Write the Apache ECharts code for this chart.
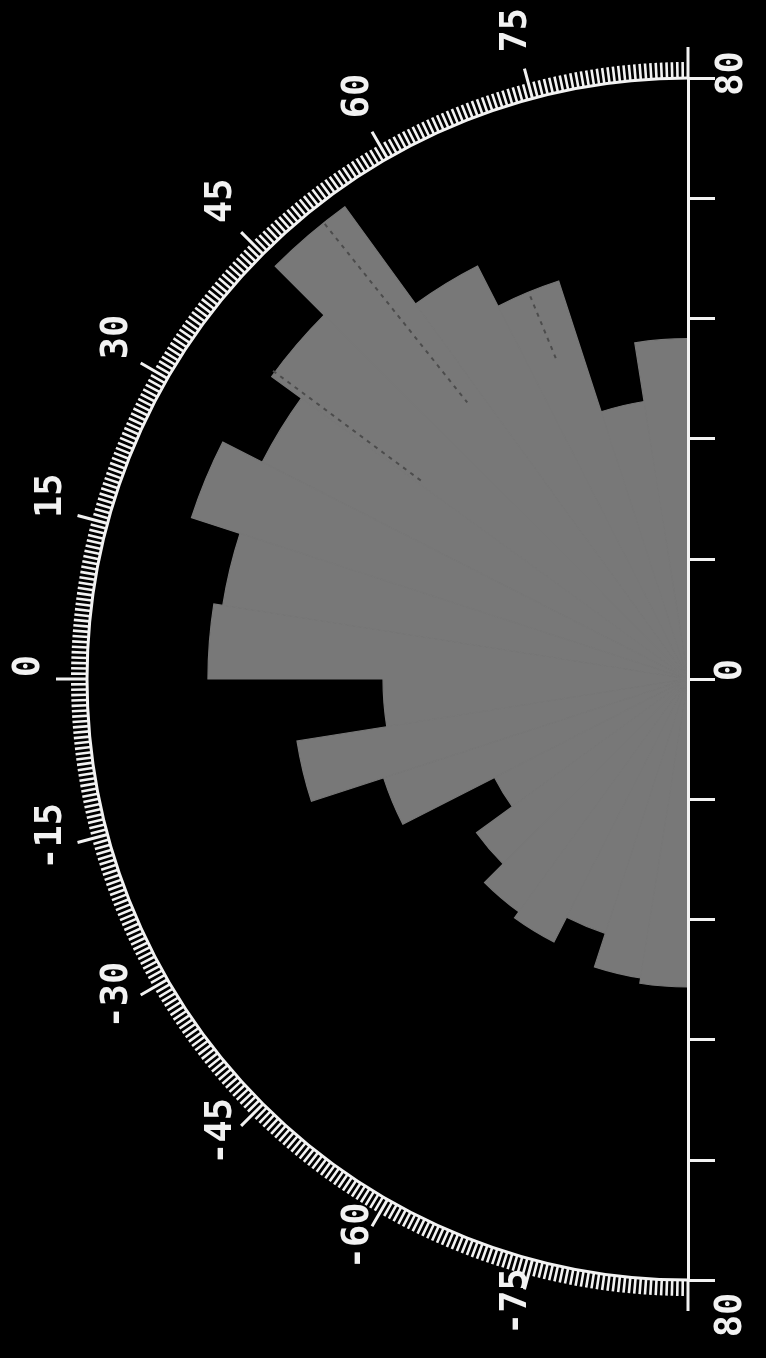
<!DOCTYPE html>
<html>
<head>
<meta charset="utf-8">
<style>
  html, body { margin: 0; padding: 0; background: #000; }
  #chart { width: 766px; height: 1358px; }
</style>
<script src="https://cdn.jsdelivr.net/npm/echarts@6/dist/echarts.min.js"></script>
</head>
<body>
<div id="chart"></div>
<script>
// ---- data ----
// 9-degree angle bins, lower edges (degrees), from -90 up to 81
const binStarts = [-90, -81, -72, -63, -54, -45, -36, -27, -18, -9, 0, 9, 18, 27, 36, 45, 54, 63, 72, 81];
// bar length of each bin (radial units, 0..80)
const binValues = [41.0, 40.3, 35.6, 39.3, 38.3, 34.8, 28.9, 42.6, 52.7, 40.6, 63.9, 62.7, 69.5, 63.6, 68.5, 77.7, 61.7, 55.7, 37.4, 45.3];
// angle-axis tick labels (degrees)
const angleLabels = [-75, -60, -45, -30, -15, 0, 15, 30, 45, 60, 75];
// radial-axis labelled values
const radiusLabels = [0, 80];
// faint dashed radial traces inside the bars
const traceAngles = [36.6, 51.4, 67.6];
const traceInner = [44.2, 47.1, 46.2];
const traceOuter = [68.8, 77.5, 55.1];

// ---- styles ----
const WHITE = '#f2f2f2';
const BAR = '#787878';
const FONT_FAMILY = '"DejaVu Sans Mono", "Liberation Mono", monospace';
const FONT_SIZE = 37;
const CENTER = [688, 679];
const RADIUS = 601;
const LABEL_R = 87.6;      // radius (axis units) where angle labels sit
const LABEL_SHIFT = [-1, -13];

const catsDesc = binStarts.slice().reverse().map(s => s + '–' + (s + 9));
const valsDesc = binValues.slice().reverse();

const tokenFont = { fontFamily: FONT_FAMILY, fontWeight: 'bold', fontSize: FONT_SIZE, color: WHITE };

const chart = echarts.init(document.getElementById('chart'), null, { renderer: 'canvas' });

const traceSeries = traceAngles.map((a, i) => ({
  type: 'line',
  coordinateSystem: 'polar',
  polarIndex: 0,
  data: [[traceOuter[i], a], [traceInner[i], a]],
  symbol: 'none',
  silent: true,
  lineStyle: { color: '#4c4c4c', width: 2, type: [4, 5] },
  z: 3
}));

chart.setOption({
  backgroundColor: '#000',
  animation: false,
  polar: [
    { center: CENTER, radius: RADIUS },
    { center: CENTER, radius: RADIUS }
  ],
  angleAxis: [
    {
      polarIndex: 0,
      type: 'value',
      min: -90, max: 90, interval: 15,
      startAngle: 270, endAngle: 90, clockwise: true,
      axisLine: { lineStyle: { color: WHITE, width: 3 } },
      axisTick: { show: true, length: 31, lineStyle: { color: WHITE, width: 3 } },
      minorTick: { show: true, splitNumber: 30, length: 16, lineStyle: { color: WHITE, width: 2.6 } },
      axisLabel: { show: false },
      splitLine: { show: false },
      z: 5
    },
    {
      polarIndex: 1,
      type: 'category',
      data: catsDesc,
      startAngle: 90, endAngle: 270, clockwise: false,
      show: false,
      splitLine: { show: false }
    }
  ],
  radiusAxis: [
    {
      polarIndex: 0,
      type: 'value', min: 0, max: 80, interval: 16,
      axisLine: { lineStyle: { color: WHITE, width: 3 } },
      axisTick: { show: true, length: 27, lineStyle: { color: WHITE, width: 3 } },
      axisLabel: {
        rotate: 90, margin: 25, color: WHITE,
        fontFamily: FONT_FAMILY, fontWeight: 'bold', fontSize: FONT_SIZE,
        formatter: v => v === radiusLabels[0] ? '{z|' + v + '}' : (v === radiusLabels[1] ? '{b|' + v + '}' : ''),
        rich: {
          z: Object.assign({ padding: [0, 0, 0, 18] }, tokenFont),
          b: Object.assign({ padding: [0, 70, 0, 0] }, tokenFont)
        }
      },
      splitLine: { show: false },
      z: 6
    },
    {
      polarIndex: 1,
      type: 'value', min: 0, max: 80, interval: 16,
      axisLine: { lineStyle: { color: WHITE, width: 3 } },
      axisTick: { show: true, length: -27, lineStyle: { color: WHITE, width: 3 } },
      axisLabel: {
        rotate: 90, margin: -63, color: WHITE,
        fontFamily: FONT_FAMILY, fontWeight: 'bold', fontSize: FONT_SIZE,
        formatter: v => v === radiusLabels[1] ? '{t|' + v + '}' : '',
        rich: {
          t: Object.assign({ padding: [0, 0, 0, 9] }, tokenFont)
        }
      },
      splitLine: { show: false },
      z: 6
    }
  ],
  series: [
    {
      type: 'bar',
      coordinateSystem: 'polar',
      polarIndex: 1,
      data: valsDesc,
      barCategoryGap: '0%',
      itemStyle: { color: BAR, borderColor: BAR, borderWidth: 1.2 },
      silent: true,
      z: 2
    },
    ...traceSeries,
    {
      type: 'custom',
      coordinateSystem: 'polar',
      polarIndex: 0,
      data: angleLabels.map(a => [LABEL_R, a]),
      silent: true,
      renderItem: function (params, api) {
        const p = api.coord([api.value(0), api.value(1)]);
        return {
          type: 'text',
          x: p[0] + LABEL_SHIFT[0],
          y: p[1] + LABEL_SHIFT[1],
          rotation: Math.PI / 2,
          style: {
            text: String(angleLabels[params.dataIndex]),
            fill: WHITE,
            font: 'bold ' + FONT_SIZE + 'px ' + FONT_FAMILY,
            align: 'center',
            verticalAlign: 'middle'
          }
        };
      },
      z: 7
    }
  ]
});
</script>
</body>
</html>
